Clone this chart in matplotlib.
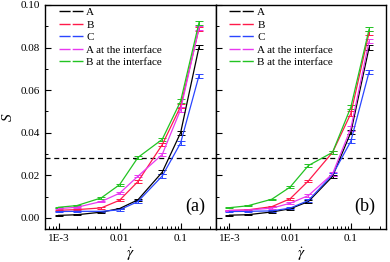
import matplotlib
matplotlib.use('Agg')
import matplotlib.pyplot as plt
from matplotlib.lines import Line2D
from matplotlib.ticker import FixedLocator, FixedFormatter, MultipleLocator, LogLocator, NullFormatter

plt.rcParams['font.family'] = ['Liberation Serif', 'DejaVu Serif']
plt.rcParams['mathtext.fontset'] = 'stix'

# shear rates
shear = [1e-3, 2e-3, 5e-3, 0.01, 0.02, 0.05, 0.1, 0.2]

labels = ['A', 'B', 'C', 'A at the interface', 'B at the interface']
colors = ['#000000', '#ff1a4a', '#2a45ff', '#e838f0', '#22c322']

# panel (a)
a_A = [0.0012, 0.0015, 0.0027, 0.0044, 0.0085, 0.0215, 0.0400, 0.0802]
a_B = [0.0036, 0.0039, 0.0047, 0.0083, 0.0171, 0.0344, 0.0524, 0.0889]
a_C = [0.0030, 0.0031, 0.0031, 0.0038, 0.0077, 0.0197, 0.0352, 0.0668]
a_Ai = [0.0044, 0.0050, 0.0077, 0.0116, 0.0196, 0.0298, 0.0509, 0.0893]
a_Bi = [0.0050, 0.0058, 0.0094, 0.0156, 0.0284, 0.0369, 0.0548, 0.0917]

# panel (b)
b_A = [0.0013, 0.0015, 0.0028, 0.0043, 0.0077, 0.0195, 0.0402, 0.0800]
b_B = [0.0035, 0.0038, 0.0053, 0.0090, 0.0174, 0.0308, 0.0490, 0.0870]
b_C = [0.0030, 0.0031, 0.0033, 0.0046, 0.0082, 0.0203, 0.0360, 0.0686]
b_Ai = [0.0035, 0.0037, 0.0046, 0.0069, 0.0105, 0.0207, 0.0420, 0.0830]
b_Bi = [0.0048, 0.0057, 0.0088, 0.0145, 0.0246, 0.0308, 0.0520, 0.0886]

# error bars (same order as shear)
err = [0.0003, 0.0003, 0.0003, 0.0004, 0.0006, 0.0008, 0.0010, 0.0010]

threshold = 0.028

fig = plt.figure(figsize=(3.9, 2.62), dpi=100)
ax1 = fig.add_axes([45 / 390, 1 - 229 / 262, 171 / 390, 224 / 262])
ax2 = fig.add_axes([216 / 390, 1 - 229 / 262, 170 / 390, 224 / 262])

panels = [(ax1, [a_A, a_B, a_C, a_Ai, a_Bi], '(a)'),
          (ax2, [b_A, b_B, b_C, b_Ai, b_Bi], '(b)')]

for ax, series, tag in panels:
    for vals, c in zip(series, colors):
        ax.errorbar(shear, vals, yerr=err, color=c, lw=0.9, elinewidth=0.7,
                    capsize=2.8, capthick=0.7)
    ax.axhline(threshold, color='black', lw=0.9, ls=(0, (4, 3)))
    ax.set_xscale('log')
    ax.set_xlim(6e-4, 0.38)
    ax.set_ylim(-0.0052, 0.1)
    ax.xaxis.set_major_locator(FixedLocator([1e-3, 0.01, 0.1]))
    ax.xaxis.set_major_formatter(FixedFormatter(['1E-3', '0.01', '0.1']))
    ax.xaxis.set_minor_locator(LogLocator(base=10, subs=range(2, 10)))
    ax.xaxis.set_minor_formatter(NullFormatter())
    ax.yaxis.set_major_locator(MultipleLocator(0.02))
    ax.yaxis.set_minor_locator(MultipleLocator(0.01))
    ax.tick_params(which='both', direction='in', top=False, right=False, labelsize=8)
    ax.tick_params(which='major', length=4, width=0.8)
    ax.tick_params(which='minor', length=2, width=0.7)
    ax.set_xlabel(r'$\dot{\gamma}$', fontsize=11, labelpad=2)
    ax.text(0.877, 0.1, tag, transform=ax.transAxes, fontsize=13,
            ha='center', va='center')
    for sp in ax.spines.values():
        sp.set_linewidth(1.0)

    handles = [Line2D([0], [0], color=c, lw=1.0, dashes=(8, 1.5)) for c in colors]
    ax.legend(handles, labels, loc='upper left', frameon=False, fontsize=8,
              handlelength=2.2, handletextpad=0.3, labelspacing=0.25,
              borderaxespad=0.2, bbox_to_anchor=(0.04, 1.02))

ax1.yaxis.set_major_formatter(matplotlib.ticker.FormatStrFormatter('%.2f'))
ax1.set_ylabel('S', fontstyle='italic', fontsize=11, labelpad=4)
ax2.tick_params(axis='y', labelleft=False)

fig.savefig('out.png', dpi=100)
